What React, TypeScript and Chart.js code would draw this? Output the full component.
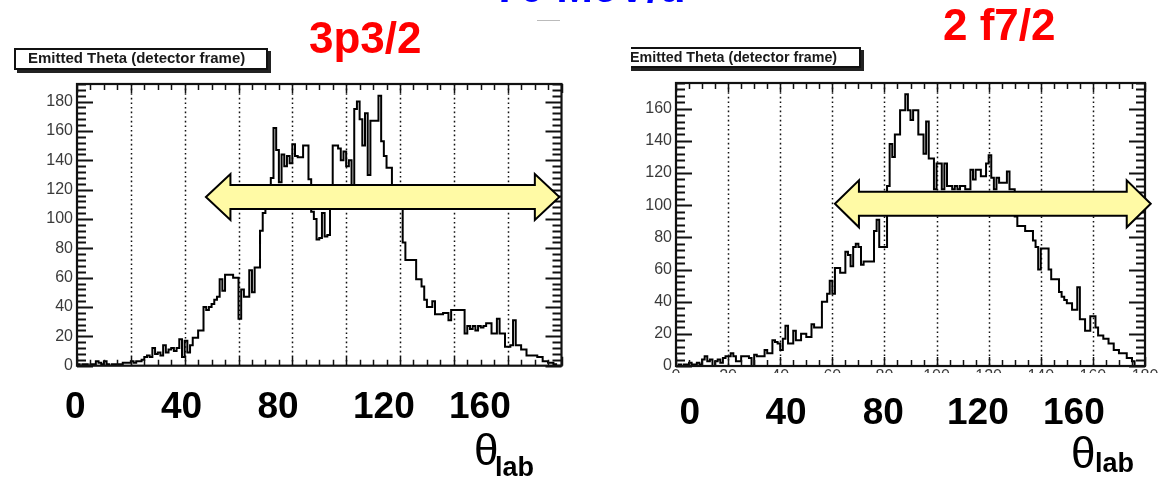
import React, { useEffect, useRef } from "react";
import { Chart, registerables } from "chart.js";

Chart.register(...registerables);

// ---- data (bin i covers [i, i+1) degrees) ----
const LEFT_COUNTS = [
  0, 1, 0, 1, 1, 0, 1, 1, 3, 2,
  1, 3, 1, 0, 1, 1, 1, 1, 2, 2,
  2, 3, 2, 3, 3, 4, 6, 7, 6, 12,
  8, 9, 7, 14, 9, 11, 12, 10, 12, 18,
  6, 17, 9, 14, 19, 19, 24, 24, 40, 38,
  40, 42, 45, 47, 59, 51, 62, 62, 62, 60,
  60, 32, 52, 47, 47, 65, 50, 67, 67, 92,
  104, 112, 122, 128, 162, 147, 125, 144, 136, 143,
  138, 151, 143, 142, 142, 150, 150, 127, 105, 100,
  86, 87, 104, 88, 89, 122, 150, 150, 148, 140,
  146, 136, 140, 122, 175, 180, 168, 150, 172, 130,
  167, 167, 167, 184, 153, 143, 135, 135, 122, 120,
  120, 118, 84, 72, 72, 72, 72, 59, 59, 54,
  45, 40, 40, 44, 35, 35, 35, 36, 36, 31,
  38, 38, 38, 38, 38, 22, 27, 25, 27, 24,
  27, 26, 27, 29, 29, 22, 22, 32, 22, 22,
  13, 13, 14, 31, 14, 14, 11, 11, 7, 7,
  7, 7, 6, 6, 3, 3, 2, 2, 1, 0,
];

const RIGHT_COUNTS = [
  0, 0, 1, 0, 1, 1, 2, 1, 1, 2,
  1, 4, 6, 3, 4, 0, 3, 4, 2, 5,
  6, 6, 8, 6, 3, 3, 6, 6, 6, 5,
  0, 7, 6, 6, 6, 10, 8, 8, 16, 15,
  14, 10, 17, 25, 14, 14, 22, 16, 16, 20,
  20, 18, 18, 26, 24, 24, 24, 40, 40, 45,
  53, 45, 61, 61, 58, 58, 71, 69, 62, 74,
  76, 74, 63, 65, 65, 65, 65, 84, 91, 74,
  74, 74, 112, 138, 130, 144, 144, 159, 159, 169,
  159, 153, 159, 159, 144, 144, 132, 152, 129, 129,
  110, 126, 126, 110, 126, 112, 112, 110, 112, 110,
  112, 112, 110, 110, 122, 116, 122, 122, 118, 118,
  126, 131, 117, 110, 117, 114, 114, 114, 121, 110,
  110, 93, 87, 87, 87, 84, 84, 84, 78, 74,
  60, 73, 73, 73, 60, 54, 54, 54, 46, 43,
  41, 39, 39, 35, 35, 49, 29, 29, 22, 22,
  31, 31, 24, 19, 19, 17, 17, 14, 14, 10,
  10, 8, 8, 8, 5, 5, 3, 0, 0, 0,
];

const X_TICKS = [0, 20, 40, 60, 80, 100, 120, 140, 160, 180];
const X_GRID = [20, 40, 60, 80, 100, 120, 140, 160];
const LEFT_Y_TICKS = [0, 20, 40, 60, 80, 100, 120, 140, 160, 180];
const RIGHT_Y_TICKS = [0, 20, 40, 60, 80, 100, 120, 140, 160];
const BIG_LABELS = ["0", "40", "80", "120", "160"];

const FONT = '"Liberation Sans", Arial, sans-serif';

const framePlugin = {
  id: "rootFrame",
  beforeDatasetsDraw(chart: any) {
    const { ctx, chartArea: a, scales } = chart;
    const x = scales.x;
    ctx.save();
    ctx.strokeStyle = "#111";
    ctx.lineWidth = 1.5;
    ctx.setLineDash([1.6, 3]);
    for (const v of X_GRID) {
      const px = Math.round(x.getPixelForValue(v)) + 0.5;
      ctx.beginPath();
      ctx.moveTo(px, a.top);
      ctx.lineTo(px, a.bottom);
      ctx.stroke();
    }
    ctx.restore();
  },
  afterDatasetsDraw(chart: any, _args: any, opts: any) {
    const { ctx, chartArea: a, scales } = chart;
    const x = scales.x;
    const y = scales.y;
    ctx.save();
    ctx.setLineDash([]);
    ctx.strokeStyle = "#111";
    // ticks on y (both sides)
    ctx.lineWidth = 1.8;
    for (let v = 0; v <= y.max; v += 4) {
      const py = Math.round(y.getPixelForValue(v)) + 0.5;
      const len = v % 20 === 0 ? 16 : 9;
      ctx.beginPath();
      ctx.moveTo(a.left, py);
      ctx.lineTo(a.left + len, py);
      ctx.moveTo(a.right, py);
      ctx.lineTo(a.right - len, py);
      ctx.stroke();
    }
    // ticks on x (top and bottom)
    ctx.lineWidth = 1.5;
    for (let v = 0; v <= 180; v += 5) {
      const px = Math.round(x.getPixelForValue(v)) + 0.5;
      const len = v % 20 === 0 ? 9 : 6;
      ctx.beginPath();
      ctx.moveTo(px, a.bottom);
      ctx.lineTo(px, a.bottom - len);
      ctx.moveTo(px, a.top);
      ctx.lineTo(px, a.top + len);
      ctx.stroke();
    }
    // frame
    ctx.lineWidth = 2.2;
    ctx.strokeRect(a.left, a.top, a.right - a.left, a.bottom - a.top);

    // double arrow annotation
    const ar = opts.arrow;
    const L = x.getPixelForValue(ar.x0);
    const R = x.getPixelForValue(ar.x1);
    const cy = y.getPixelForValue(ar.y);
    const s = ar.shaft, h = ar.head, n = ar.len;
    ctx.beginPath();
    ctx.moveTo(L, cy);
    ctx.lineTo(L + n, cy - h);
    ctx.lineTo(L + n, cy - s);
    ctx.lineTo(R - n, cy - s);
    ctx.lineTo(R - n, cy - h);
    ctx.lineTo(R, cy);
    ctx.lineTo(R - n, cy + h);
    ctx.lineTo(R - n, cy + s);
    ctx.lineTo(L + n, cy + s);
    ctx.lineTo(L + n, cy + h);
    ctx.closePath();
    ctx.fillStyle = "#FFFAA5";
    ctx.fill();
    ctx.lineWidth = 2;
    ctx.strokeStyle = "#000";
    ctx.lineJoin = "miter";
    ctx.stroke();
    ctx.restore();
  },
};

function histPoints(counts: number[]) {
  const pts = counts.map((v, i) => ({ x: i, y: v }));
  pts.push({ x: counts.length, y: counts[counts.length - 1] });
  return pts;
}

function makeChart(
  canvas: HTMLCanvasElement,
  counts: number[],
  yTicks: number[],
  ymax: number,
  showX: boolean,
  padding: any,
  arrow: any
) {
  const tickFont = { family: FONT, size: 16 };
  return new Chart(canvas, {
    type: "line",
    data: {
      datasets: [
        {
          data: histPoints(counts),
          stepped: "after",
          borderColor: "#000",
          borderWidth: 2,
          pointRadius: 0,
          fill: false,
        } as any,
      ],
    },
    options: {
      responsive: false,
      animation: false,
      devicePixelRatio: 1,
      layout: { padding },
      plugins: {
        legend: { display: false },
        tooltip: { enabled: false },
        title: { display: false },
        rootFrame: { arrow },
      } as any,
      scales: {
        x: {
          type: "linear",
          min: 0,
          max: 180,
          afterBuildTicks: (s: any) => {
            s.ticks = X_TICKS.map((v) => ({ value: v }));
          },
          afterFit: (s: any) => {
            s.height = 20;
          },
          grid: { display: false, drawTicks: false },
          border: { display: false },
          ticks: {
            display: showX,
            font: tickFont,
            color: "#3a3a3a",
            padding: 1,
            maxRotation: 0,
            autoSkip: false,
          },
        },
        y: {
          type: "linear",
          min: 0,
          max: ymax,
          afterBuildTicks: (s: any) => {
            s.ticks = yTicks.map((v) => ({ value: v }));
          },
          afterFit: (s: any) => {
            s.width = 40;
          },
          grid: { display: false, drawTicks: false },
          border: { display: false },
          ticks: { font: tickFont, color: "#3a3a3a", padding: 4 },
        },
      },
    },
    plugins: [framePlugin as any],
  });
}

const abs = (o: any): React.CSSProperties => ({ position: "absolute", whiteSpace: "nowrap", ...o });

export default function App() {
  const leftRef = useRef<HTMLCanvasElement>(null);
  const rightRef = useRef<HTMLCanvasElement>(null);

  useEffect(() => {
    const c1 = makeChart(
      leftRef.current!,
      LEFT_COUNTS,
      LEFT_Y_TICKS,
      192,
      false,
      { left: 37, right: 18.5, top: 84, bottom: 93.3 },
      { x0: 47.9, x1: 179.2, y: 115, shaft: 12, head: 23, len: 24.5 }
    );
    const c2 = makeChart(
      rightRef.current!,
      RIGHT_COUNTS,
      RIGHT_Y_TICKS,
      176,
      true,
      { left: 56, right: 17, top: 83, bottom: 93 },
      { x0: 61, x1: 182.2, y: 100.9, shaft: 12, head: 23.5, len: 24 }
    );
    return () => {
      c1.destroy();
      c2.destroy();
    };
  }, []);

  const bigStyle = { fontFamily: FONT, fontWeight: 700, fontSize: 37, lineHeight: "37px", color: "#000" };
  const leftBigX = [65, 161, 257.5, 353, 449];
  const rightBigX = [679.5, 765.5, 862.7, 947, 1043];
  const boxText = { fontWeight: 700, fontSize: 14, lineHeight: "17px", color: "#1a1a1a" };

  return (
    <div style={abs({ left: 0, top: 0, width: 1162, height: 479, overflow: "hidden", background: "#fff", fontFamily: FONT })}>
      <canvas ref={leftRef} width={580} height={479} style={abs({ left: 0, top: 0 })} />
      <div style={abs({ left: 580, top: 0, width: 582, height: 373, overflow: "hidden" })}>
        <canvas ref={rightRef} width={582} height={479} style={abs({ left: 0, top: 0 })} />
      </div>

      {/* blue heading, mostly cut off at the top */}
      <div style={abs({ left: 495, top: -35, fontWeight: 700, fontSize: 44, lineHeight: "44px", color: "#0000FF" })}>70 MeV/u</div>
      <div style={abs({ left: 537, top: 20, width: 23, height: 1, background: "#bbb" })} />

      {/* red titles */}
      <div style={abs({ left: 309, top: 16, fontWeight: 700, fontSize: 44, lineHeight: "44px", color: "#FF0000" })}>3p3/2</div>
      <div style={abs({ left: 943, top: 2.5, fontWeight: 700, fontSize: 44, lineHeight: "44px", color: "#FF0000" })}>2 f7/2</div>

      {/* ROOT title boxes */}
      <div style={abs({ left: 14, top: 48, width: 254, height: 21.5, boxSizing: "border-box", border: "2px solid #111", boxShadow: "3px 3px 0 #222", background: "#fff" })}>
        <div style={abs({ left: 12, top: 0, ...boxText, transform: "scaleX(1.07)", transformOrigin: "left center" })}>
          Emitted Theta (detector frame)
        </div>
      </div>
      <div style={abs({ left: 631, top: 40, width: 240, height: 40, overflow: "hidden" })}>
        <div style={abs({ left: -15, top: 7, width: 245, height: 21, boxSizing: "border-box", border: "2px solid #111", boxShadow: "3px 3px 0 #222", background: "#fff" })}>
          <div style={abs({ left: 12, top: 0, ...boxText, transform: "scaleX(1.02)", transformOrigin: "left center" })}>
            Emitted Theta (detector frame)
          </div>
        </div>
      </div>

      {/* big axis annotations */}
      {BIG_LABELS.map((t, i) => (
        <div key={"l" + t} style={abs({ left: leftBigX[i], top: 387, ...bigStyle })}>{t}</div>
      ))}
      {BIG_LABELS.map((t, i) => (
        <div key={"r" + t} style={abs({ left: rightBigX[i], top: 393, ...bigStyle })}>{t}</div>
      ))}

      <div style={abs({ left: 474, top: 427.7, fontSize: 44, lineHeight: "44px", color: "#000" })}>θ</div>
      <div style={abs({ left: 495, top: 454, fontSize: 27, fontWeight: 700, lineHeight: "27px", color: "#000" })}>lab</div>
      <div style={abs({ left: 1071, top: 431.4, fontSize: 44, lineHeight: "44px", color: "#000" })}>θ</div>
      <div style={abs({ left: 1095, top: 450, fontSize: 27, fontWeight: 700, lineHeight: "27px", color: "#000" })}>lab</div>
    </div>
  );
}
